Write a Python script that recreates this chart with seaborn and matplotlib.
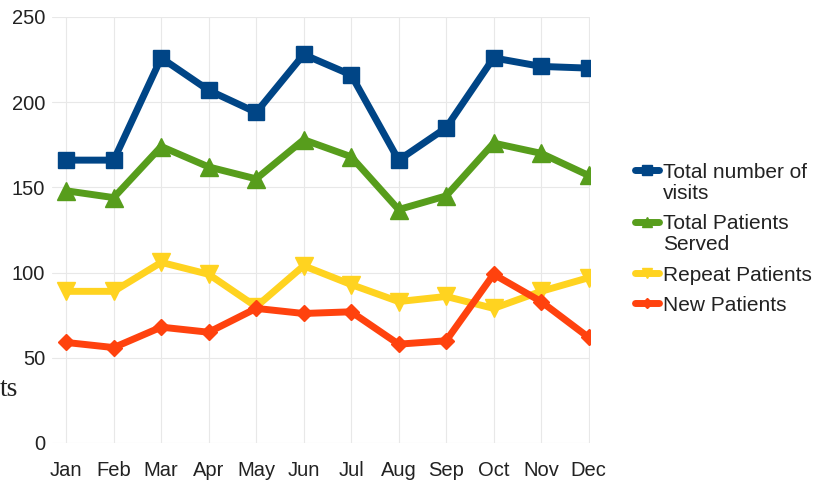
import matplotlib
matplotlib.use("Agg")
import matplotlib.pyplot as plt
import seaborn as sns
import pandas as pd

# Monthly clinic figures
months = ["Jan", "Feb", "Mar", "Apr", "May", "Jun",
          "Jul", "Aug", "Sep", "Oct", "Nov", "Dec"]
total_visits = [166, 166, 226, 207, 194, 228, 216, 166, 185, 226, 221, 220]
total_patients = [148, 144, 174, 162, 155, 178, 168, 137, 145, 176, 170, 157]
repeat_patients = [89, 89, 106, 99, 80, 104, 93, 83, 86, 79, 89, 97]
new_patients = [59, 56, 68, 65, 79, 76, 77, 58, 60, 99, 83, 62]

series_names = ["Total number of\nvisits", "Total Patients\nServed",
                "Repeat Patients", "New Patients"]
series_values = [total_visits, total_patients, repeat_patients, new_patients]
colors = ["#004586", "#579d1c", "#ffd320", "#ff420e"]
markers = ["s", "^", "v", "D"]
marker_sizes = [12, 12.5, 12.5, 8.5]

y_ticks = [0, 50, 100, 150, 200, 250]

df = pd.DataFrame({
    "month": months * len(series_names),
    "value": [v for vals in series_values for v in vals],
    "series": [name for name, vals in zip(series_names, series_values) for _ in vals],
})

sns.set_theme(style="white")
plt.rcParams["font.family"] = ["Liberation Sans", "DejaVu Sans"]

fig = plt.figure(figsize=(8.31, 4.84), dpi=100)
ax = fig.add_axes([52 / 831, 1 - 443 / 484, (590 - 52) / 831, (443 - 17) / 484])

for name, color, marker, ms in zip(series_names, colors, markers, marker_sizes):
    sns.lineplot(data=df[df["series"] == name], x="month", y="value",
                 color=color, marker=marker, markersize=ms,
                 markeredgecolor=color, markeredgewidth=1,
                 linewidth=5, legend=False, ax=ax, sort=False)

ax.set_xlim(-0.3, 11.03)
ax.set_ylim(0, 250)
ax.set_yticks(y_ticks)
ax.set_xlabel("")
ax.set_ylabel("")
for s in ax.spines.values():
    s.set_visible(False)
ax.grid(True, color="#e8e8e8", linewidth=0.8)
ax.set_axisbelow(True)
ax.tick_params(axis="both", length=0, labelsize=14.5, colors="#222222")
ax.tick_params(axis="y", pad=5)
ax.tick_params(axis="x", pad=13)

leg = ax.legend(ax.get_lines(), series_names, loc="upper left",
                bbox_to_anchor=(635 / 831, 1 - 163 / 484),
                bbox_transform=fig.transFigure, frameon=False,
                fontsize=15, handlelength=1.15, handletextpad=0.2,
                labelspacing=0.55, borderpad=0, borderaxespad=0,
                markerscale=0.6)
for t in leg.get_texts():
    t.set_color("#222222")
    t.set_linespacing(1.12)
for col in leg._legend_handle_box.get_children():
    for item in col.get_children():
        item.align = "top"

fig.text(0.0, 1 - 396 / 484, "ts", fontsize=20, ha="left", va="baseline",
         family=["Liberation Serif", "DejaVu Serif"], color="#222222")

fig.savefig("out.png", dpi=100)
